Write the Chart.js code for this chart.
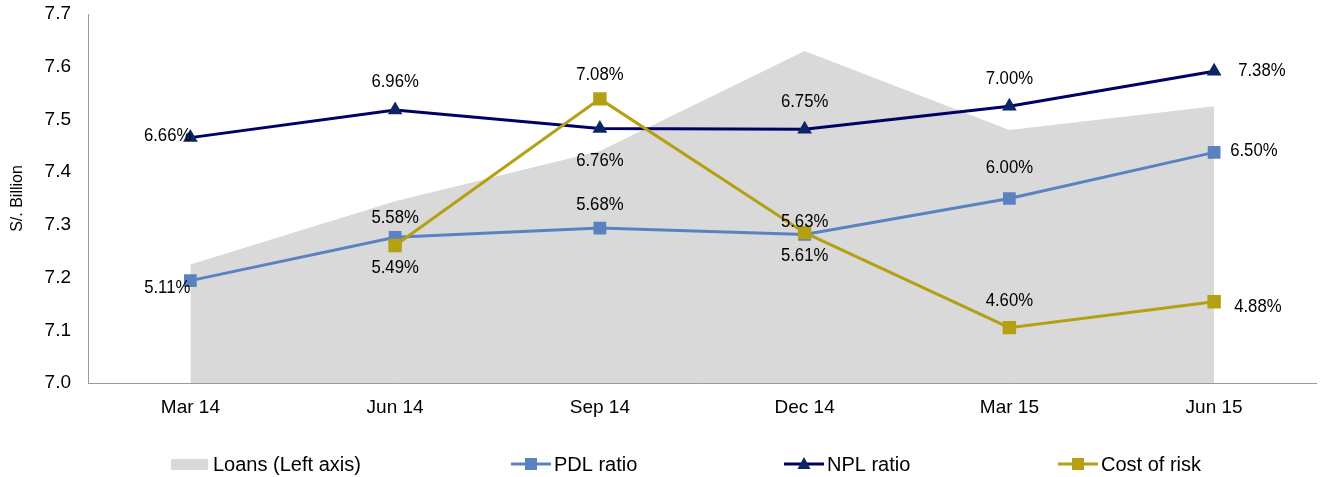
<!DOCTYPE html>
<html>
<head>
<meta charset="utf-8">
<script src="https://cdn.jsdelivr.net/npm/chart.js@4.4.1/dist/chart.umd.min.js"></script>
<style>
  html, body { margin: 0; padding: 0; background: #ffffff; overflow: hidden; }
  #wrap { width: 1326px; height: 477px; position: relative; }
</style>
</head>
<body>
<div id="wrap"><canvas id="c" width="1326" height="477"></canvas></div>
<script>
// ---- Data ----
const categories = ['Mar 14', 'Jun 14', 'Sep 14', 'Dec 14', 'Mar 15', 'Jun 15'];
const loans = [7.225, 7.345, 7.44, 7.63, 7.48, 7.525];      // S/. Billion (left axis)
const pdlRatio = [5.11, 5.58, 5.68, 5.61, 6.00, 6.50];       // %
const nplRatio = [6.66, 6.96, 6.76, 6.75, 7.00, 7.38];       // %
const costOfRisk = [null, 5.49, 7.08, 5.63, 4.60, 4.88];     // %
const leftTicks = { min: 7.0, max: 7.7, step: 0.1 };
const rightRange = { min: 4, max: 8 };

// ---- Styles ----
const FONT = "Arial, 'Liberation Sans', sans-serif";
const C_LOANS = '#D9D9D9';
const C_PDL = '#5A82C0';
const C_NPL = '#000066';
const C_NPL_MK = '#0B2566';
const C_COR = '#B4A012';
const C_AXIS = '#9A9A9A';

// label placement by dataset index: [mode, dx, dy]
// mode: 'c' centered, 'l' right-aligned at x+dx, 'r' left-aligned at x+dx
const labelPlacement = {
  1: [['l', 0, 7], ['c', 0, -19], ['c', 0, -23], ['c', 0, 22], ['c', 0, -30], ['r', 16, -1]],   // PDL
  2: [['l', 1, -2], ['c', 0, -28], ['c', 0, 33], ['c', 0, -27], ['c', 0, -27], ['r', 24, 0]],   // NPL
  3: [null, ['c', 0, 22], ['c', 0, -24], ['c', 0, -11], ['c', 0, -27], ['r', 20, 5]]           // Cost of risk
};
const LABEL_SX = 0.93;

const dataLabels = {
  id: 'dataLabels',
  afterDatasetsDraw(chart) {
    const ctx = chart.ctx;
    ctx.save();
    ctx.font = '18px ' + FONT;
    ctx.fillStyle = '#000';
    ctx.textBaseline = 'middle';
    ctx.scale(LABEL_SX, 1);
    [1, 2, 3].forEach(di => {
      const ds = chart.data.datasets[di];
      const meta = chart.getDatasetMeta(di);
      meta.data.forEach((pt, i) => {
        const v = ds.data[i];
        const pl = labelPlacement[di][i];
        if (v === null || v === undefined || !pl) return;
        const txt = v.toFixed(2) + '%';
        ctx.textAlign = pl[0] === 'c' ? 'center' : (pl[0] === 'l' ? 'right' : 'left');
        ctx.fillText(txt, (pt.x + pl[1]) / LABEL_SX, pt.y + pl[2]);
      });
    });
    ctx.restore();
  }
};

function drawMarker(ctx, kind, x, y, color) {
  ctx.fillStyle = color;
  if (kind === 'rect') {
    ctx.fillRect(x - 6, y - 6, 12, 12);
  } else {
    ctx.beginPath();
    ctx.moveTo(x, y - 7);
    ctx.lineTo(x + 6.5, y + 5);
    ctx.lineTo(x - 6.5, y + 5);
    ctx.closePath();
    ctx.fill();
  }
}

const customLegend = {
  id: 'customLegend',
  afterDraw(chart) {
    const ctx = chart.ctx;
    const y = 465;
    ctx.save();
    ctx.font = '20px ' + FONT;
    ctx.textBaseline = 'middle';
    ctx.textAlign = 'left';
    ctx.fillStyle = C_LOANS;
    ctx.fillRect(171, 459, 37, 11);
    ctx.fillStyle = '#000';
    ctx.fillText(chart.data.datasets[0].label, 213, y);
    const items = [
      { ds: 1, x0: 511, kind: 'rect', line: C_PDL, mk: C_PDL },
      { ds: 2, x0: 784, kind: 'tri', line: C_NPL, mk: C_NPL_MK },
      { ds: 3, x0: 1058, kind: 'rect', line: C_COR, mk: C_COR }
    ];
    items.forEach(it => {
      ctx.strokeStyle = it.line;
      ctx.lineWidth = 3;
      ctx.beginPath();
      ctx.moveTo(it.x0, y - 1);
      ctx.lineTo(it.x0 + 40, y - 1);
      ctx.stroke();
      drawMarker(ctx, it.kind, it.x0 + 20, y - 1, it.mk);
      ctx.fillStyle = '#000';
      ctx.fillText(chart.data.datasets[it.ds].label, it.x0 + 43, y);
    });
    ctx.restore();
  }
};

new Chart(document.getElementById('c'), {
  type: 'line',
  data: {
    labels: categories,
    datasets: [
      {
        label: 'Loans (Left axis)',
        data: loans,
        yAxisID: 'y',
        order: 4,
        fill: 'start',
        backgroundColor: C_LOANS,
        borderWidth: 0,
        borderColor: 'rgba(0,0,0,0)',
        pointRadius: 0,
        tension: 0
      },
      {
        label: 'PDL ratio',
        data: pdlRatio,
        yAxisID: 'y1',
        order: 3,
        borderColor: C_PDL,
        backgroundColor: C_PDL,
        borderWidth: 3,
        pointStyle: 'rect',
        pointRadius: 9,
        pointBorderWidth: 0,
        fill: false,
        tension: 0
      },
      {
        label: 'NPL ratio',
        data: nplRatio,
        yAxisID: 'y1',
        order: 2,
        borderColor: C_NPL,
        backgroundColor: C_NPL_MK,
        borderWidth: 3,
        pointStyle: 'triangle',
        pointRadius: 8.5,
        pointBorderWidth: 0,
        fill: false,
        tension: 0
      },
      {
        label: 'Cost of risk',
        data: costOfRisk,
        yAxisID: 'y1',
        order: 1,
        borderColor: C_COR,
        backgroundColor: C_COR,
        borderWidth: 3,
        pointStyle: 'rect',
        pointRadius: 9.5,
        pointBorderWidth: 0,
        fill: false,
        tension: 0
      }
    ]
  },
  options: {
    responsive: false,
    animation: false,
    devicePixelRatio: 1,
    layout: { padding: { top: 14, right: 1, bottom: 60, left: 0 } },
    plugins: {
      legend: { display: false },
      tooltip: { enabled: false },
      title: { display: false }
    },
    scales: {
      x: {
        offset: true,
        grid: { display: false, drawTicks: false },
        border: { display: true, color: C_AXIS, width: 1 },
        ticks: { color: '#000', font: { family: FONT, size: 19 }, padding: 13, maxRotation: 0 },
        afterFit(scale) {
          scale.height = 34;
          scale.paddingLeft = 0; scale.paddingRight = 0;
          scale.paddingTop = 0; scale.paddingBottom = 0;
        }
      },
      y: {
        position: 'left',
        min: leftTicks.min,
        max: leftTicks.max,
        grid: { display: false, drawTicks: false },
        border: { display: true, color: C_AXIS, width: 1 },
        ticks: {
          stepSize: leftTicks.step,
          color: '#000',
          font: { family: FONT, size: 19 },
          padding: 17,
          callback: v => Number(v).toFixed(1)
        },
        title: {
          display: true,
          text: 'S/. Billion',
          color: '#000',
          font: { family: FONT, size: 16 },
          padding: { top: 8, bottom: 0 }
        },
        afterFit(scale) {
          scale.width = 88;
          scale.paddingTop = 0; scale.paddingBottom = 0;
          scale.paddingLeft = 0; scale.paddingRight = 0;
        }
      },
      y1: {
        position: 'right',
        display: false,
        min: rightRange.min,
        max: rightRange.max
      }
    }
  },
  plugins: [dataLabels, customLegend]
});
</script>
</body>
</html>
